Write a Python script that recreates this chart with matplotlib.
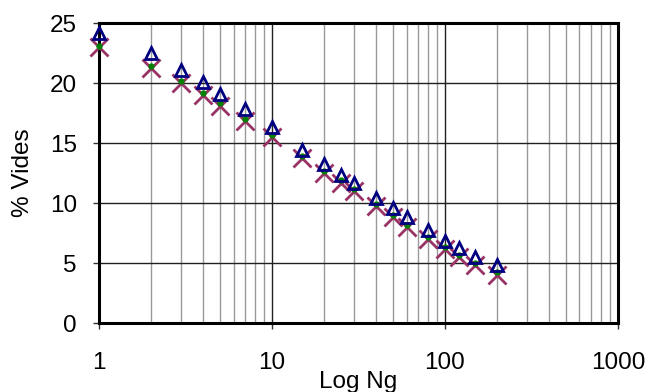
import matplotlib
matplotlib.use("Agg")
import matplotlib.pyplot as plt
from matplotlib.ticker import LogLocator, FixedLocator, NullFormatter

plt.rcParams['font.family'] = ['Liberation Sans', 'DejaVu Sans']

ng = [1, 2, 3, 4, 5, 7, 10, 15, 20, 25, 30, 40, 50, 60, 80, 100, 120, 150, 200]
tri = [24.2, 22.5, 21.1, 20.1, 19.1, 17.8, 16.3, 14.4, 13.25, 12.3, 11.65, 10.4, 9.6, 8.8, 7.75, 6.85, 6.25, 5.5, 4.8]
cross = [23.0, 21.3, 20.0, 19.0, 18.1, 16.8, 15.5, 13.75, 12.5, 11.7, 11.0, 9.75, 8.8, 8.0, 7.0, 6.15, 5.5, 4.8, 4.0]
dots = [23.1, 21.45, 20.2, 19.2, 18.3, 17.0, 15.7, 13.95, 12.7, 11.9, 11.2, 9.95, 9.0, 8.2, 7.2, 6.35, 5.7, 5.0, 4.25]

x_ticks = [1, 10, 100, 1000]
x_labels = ["1", "10", "100", "1000"]
y_ticks = [0, 5, 10, 15, 20, 25]

fig = plt.figure(figsize=(6.49, 3.92), dpi=100)
ax = fig.add_axes([0.1525, 0.176, 0.7995, 0.765])
ax.set_xscale('log')
ax.set_xlim(1, 1000)
ax.set_ylim(0, 25)

ax.xaxis.set_major_locator(FixedLocator(x_ticks))
ax.set_xticklabels(x_labels)
ax.xaxis.set_minor_locator(LogLocator(base=10, subs=range(2, 10)))
ax.xaxis.set_minor_formatter(NullFormatter())
ax.set_yticks(y_ticks)

ax.grid(which='major', axis='both', color='#202020', linewidth=1.0)
ax.grid(which='minor', axis='x', color='#999999', linewidth=1.0)
ax.set_axisbelow(True)

ax.plot(ng, cross, linestyle='none', marker='x', markersize=13, markeredgewidth=2.0,
        color='#993366', zorder=3, clip_on=False)
ax.plot(ng, dots, linestyle='none', marker='o', markersize=3.5, color='#008000',
        zorder=4, clip_on=False)
ax.plot(ng, tri, linestyle='none', marker='^', markersize=8, markeredgewidth=2.0,
        markerfacecolor='none', markeredgecolor='#000080', zorder=5, clip_on=False)

for s in ax.spines.values():
    s.set_linewidth(2.2)
    s.set_color('black')

ax.tick_params(axis='both', which='major', direction='out', length=4, width=1,
               labelsize=17.5, color='#333333')
ax.tick_params(axis='x', which='major', pad=17)
ax.tick_params(axis='y', which='major', pad=12)
ax.tick_params(axis='x', which='minor', length=0)

ax.set_xlabel('Log Ng', fontsize=17.5, labelpad=-2)
ax.set_ylabel('% Vides', fontsize=17.5, labelpad=11)

fig.savefig('out.png', dpi=100, facecolor='white')
